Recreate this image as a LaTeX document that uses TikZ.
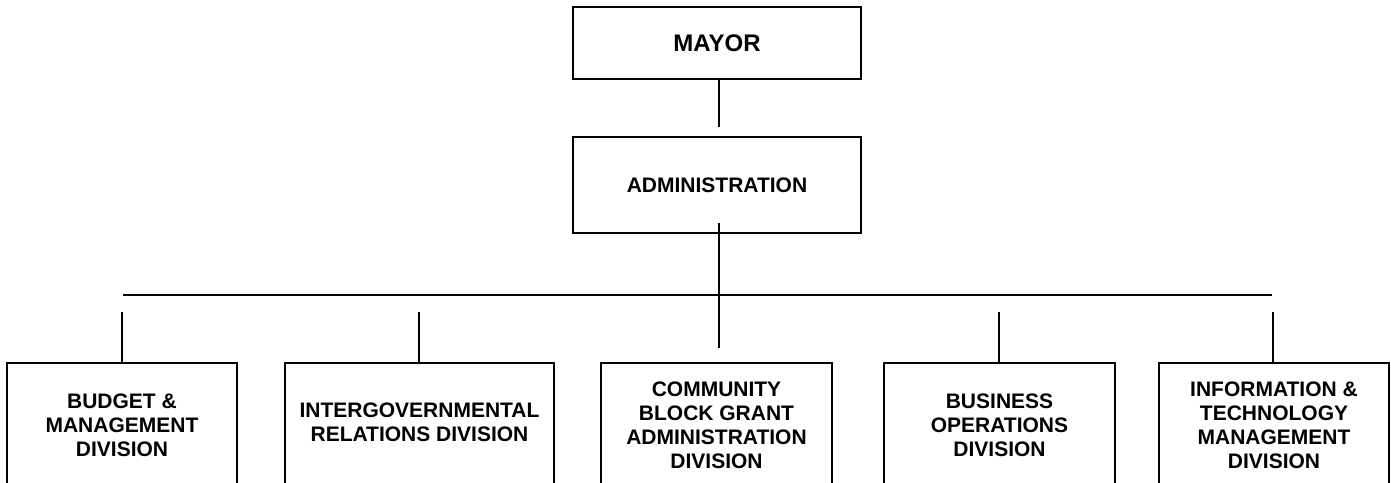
\documentclass[tikz,border=0pt]{standalone}
\usepackage{fontspec}
\setmainfont{Liberation Sans}
\begin{document}
\begin{tikzpicture}[x=1pt,y=-1pt,
  box/.style={draw=black, line width=1.6pt, rectangle, inner sep=0pt, align=center,
    font=\bfseries\fontsize{21}{24}\selectfont},
  topbox/.style={box, minimum width=288pt, minimum height=#1},
  divbox/.style={box, minimum height=124pt},
  link/.style={draw=black, line width=1.3pt}]
\useasboundingbox (0,0) rectangle (1391,482);
\fill[white] (0,0) rectangle (1391,482);
\begin{scope}
\clip (0,0) rectangle (1391,482);
\node[topbox=72pt, font=\bfseries\fontsize{24}{28}\selectfont] (mayor) at (717,43) {MAYOR};
\node[topbox=96pt] (adm) at (717,185) {ADMINISTRATION};
\node[divbox, minimum width=230pt] (bud) at (122,425) {BUDGET \&\\MANAGEMENT\\DIVISION};
\node[divbox, minimum width=269pt] (igr) at (419.5,425) {\raisebox{6pt}{\begin{tabular}{@{}c@{}}INTERGOVERNMENTAL\\RELATIONS DIVISION\end{tabular}}};
\node[divbox, minimum width=231pt] (cbg) at (716.5,425) {COMMUNITY\\BLOCK GRANT\\ADMINISTRATION\\DIVISION};
\node[divbox, minimum width=231pt] (bus) at (999.5,425) {BUSINESS\\OPERATIONS\\DIVISION};
\node[divbox, minimum width=230pt] (itm) at (1274,425) {INFORMATION \&\\TECHNOLOGY\\MANAGEMENT\\DIVISION};
\coordinate (hl) at (123,295);
\coordinate (hr) at (1272,295);
\coordinate (admtail) at (719,223);
\coordinate (admend) at (719,348);
\draw[link] (mayor.south -| admtail) -- (719,127);
\draw[link] (admtail) -- (admend);
\draw[link] (hl) -- (hr);
\draw[link] (122,312) -- (bud.north -| 122,0);
\draw[link] (419,312) -- (igr.north -| 419,0);
\draw[link] (999,312) -- (bus.north -| 999,0);
\draw[link] (1273,312) -- (itm.north -| 1273,0);
\end{scope}
\end{tikzpicture}
\end{document}
